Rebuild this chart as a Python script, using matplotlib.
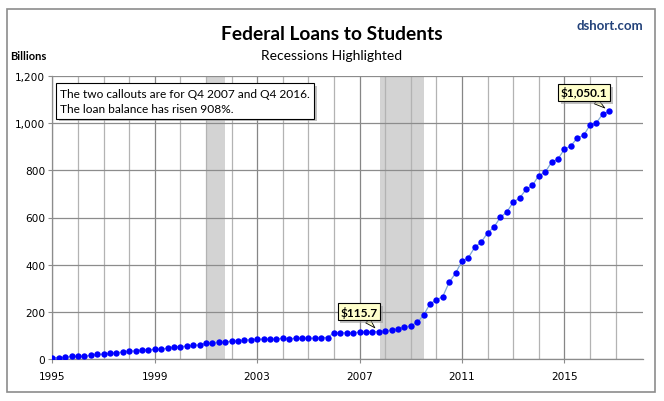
import matplotlib
matplotlib.use("Agg")
import matplotlib.pyplot as plt
import matplotlib.patheffects as pe
from matplotlib.patches import Rectangle
import numpy as np

# Quarterly federal student loan balance, billions of dollars (1995 Q1 - 2016 Q4)
years = list(range(1995, 2017))
balance = [
    6, 6, 7, 11,          # 1995
    11, 11, 16, 20,       # 1996
    20, 24, 26, 30,       # 1997
    34, 34, 39, 39,       # 1998
    41, 41, 46, 51,       # 1999
    53, 54, 59, 59,       # 2000
    67, 67, 71, 71,       # 2001
    76, 77, 80, 82,       # 2002
    84, 84, 84, 84,       # 2003
    88, 85, 88, 88,       # 2004
    88, 88, 91, 91,       # 2005
    111, 111, 111, 111,   # 2006
    114, 114, 116, 115.7, # 2007
    120, 121, 129, 134,   # 2008
    142, 155, 186, 234,   # 2009
    250, 265, 325, 364,   # 2010
    415, 430, 474, 495,   # 2011
    535, 559, 601, 623,   # 2012
    665, 682, 719, 736,   # 2013
    778, 792, 835, 848,   # 2014
    890, 903, 937, 948,   # 2015
    992, 1002, 1039, 1050.1,  # 2016
]
recessions = [(2001.0, 2001.75), (2007.8, 2009.5)]
callout_labels = ["$115.7", "$1,050.1"]
callout_index = [51, 87]
y_ticks = [0, 200, 400, 600, 800, 1000, 1200]
x_label_years = [1995, 1999, 2003, 2007, 2011, 2015]

W, H = 664, 402


def px(x, y):
    """Pixel position (from top-left) to figure fraction."""
    return x / W, 1 - y / H


quarters = np.array([y + q / 4 for y in years for q in range(4)])

fig = plt.figure(figsize=(W / 100, H / 100), dpi=100)
fig.patch.set_facecolor("white")

# outer frame of the chart
fig.patches.append(Rectangle(px(7, 393), 648 / W, 383 / H, transform=fig.transFigure,
                             fill=False, ec="#8c8c8c", lw=1.2))

left, bottom = px(52.3, 360)
ax = fig.add_axes([left, bottom, 590.7 / W, 283 / H])

for start, end in recessions:
    ax.axvspan(start, end, color="#d3d3d3", lw=0, zorder=0.2)

ax.plot(quarters, balance, color="#7ea6d8", lw=0.9, marker="o", ms=4.6,
        mfc="#0000ff", mec="#0000ff", mew=0, zorder=3)

ax.set_xlim(1995, 2018.07)
ax.set_ylim(0, 1200)
ax.set_yticks(y_ticks)
ax.set_yticklabels([f"{v:,}" for v in y_ticks])
ax.set_xticks(x_label_years)
ax.set_xticklabels([str(y) for y in x_label_years])
ax.set_xticks(range(1995, 2018), minor=True)
ax.tick_params(axis="both", labelsize=7.6, labelcolor="black", length=3, width=0.8,
               color="#8c8c8c")
ax.tick_params(axis="x", which="minor", length=0)
ax.tick_params(axis="y", pad=2)
ax.tick_params(axis="x", pad=6)

ax.grid(True, which="minor", axis="x", color="#b3b3b3", lw=0.9, zorder=0.5)
ax.grid(True, which="major", axis="x", color="#868686", lw=0.9, zorder=0.6)
ax.grid(True, which="major", axis="y", color="#8c8c8c", lw=0.9, zorder=0.6)
ax.set_axisbelow(True)
for side in ["top", "right"]:
    ax.spines[side].set_visible(False)
for side in ["left", "bottom"]:
    ax.spines[side].set_color("#8c8c8c")
    ax.spines[side].set_linewidth(0.9)

# titles and labels
fig.text(*px(332, 34), "Federal Loans to Students", ha="center", va="center",
         fontsize=13.8, fontweight="bold", family="Lato")
fig.text(*px(332, 56), "Recessions Highlighted", ha="center", va="center",
         fontsize=10, family="Lato")
fig.text(*px(10, 57), "Billions", ha="left", va="center", fontsize=8,
         fontweight="bold", family="Lato")
fig.text(*px(643, 26), "dshort.com", ha="right", va="center", fontsize=9.5,
         fontweight="bold", family="Lato", color="#23427a")

# note box
shadow = [pe.SimplePatchShadow(offset=(2, -2), shadow_rgbFace="#999999", alpha=0.6), pe.Normal()]
note = fig.text(*px(60, 102), "The two callouts are for Q4 2007 and Q4 2016.\nThe loan balance has risen 908%.",
                ha="left", va="center", fontsize=8.6, family="Lato", linespacing=1.55,
                bbox=dict(boxstyle="square,pad=0.35", fc="white", ec="black", lw=0.8))
note.get_bbox_patch().set_path_effects(shadow)

# callouts
offsets = [(-20, 20), (-25, 19)]
for label, idx, off in zip(callout_labels, callout_index, offsets):
    ann = ax.annotate(label, xy=(quarters[idx], balance[idx]), xytext=off,
                      textcoords="offset pixels", ha="center", va="center",
                      fontsize=8.6, fontweight="bold", family="Lato", zorder=5,
                      bbox=dict(boxstyle="square,pad=0.22", fc="#ffffcc", ec="black", lw=0.8),
                      arrowprops=dict(arrowstyle="wedge,tail_width=0.5", fc="#ffffcc",
                                      ec="black", lw=0.6, shrinkA=0, shrinkB=4))
    ann.get_bbox_patch().set_path_effects(shadow)

fig.savefig("out.png", dpi=100)
